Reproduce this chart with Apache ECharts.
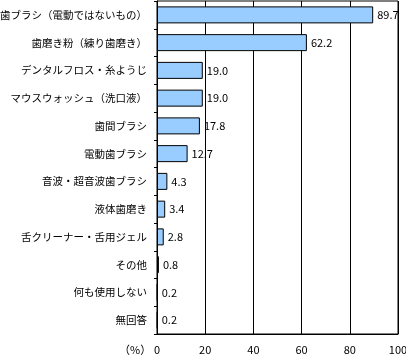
<!DOCTYPE html>
<html>
<head>
<meta charset="utf-8">
<script src="https://cdn.jsdelivr.net/npm/echarts@6/dist/echarts.min.js"></script>
<style>
html,body{margin:0;padding:0;background:#fff;}
#c{width:406px;height:357px;}
</style>
</head>
<body>
<div id="c"></div>
<script>
const categories = [
  "歯ブラシ（電動ではないもの）",
  "歯磨き粉（練り歯磨き）",
  "デンタルフロス・糸ようじ",
  "マウスウォッシュ（洗口液）",
  "歯間ブラシ",
  "電動歯ブラシ",
  "音波・超音波歯ブラシ",
  "液体歯磨き",
  "舌クリーナー・舌用ジェル",
  "その他",
  "何も使用しない",
  "無回答"
];
const values = [89.7, 62.2, 19.0, 19.0, 17.8, 12.7, 4.3, 3.4, 2.8, 0.8, 0.2, 0.2];
const xTicks = [0, 20, 40, 60, 80, 100];
const unitLabel = "（%）";

const FONT = '"Noto Sans CJK JP", sans-serif';
const chart = echarts.init(document.getElementById('c'), null, {renderer: 'canvas'});
chart.setOption({
  animation: false,
  backgroundColor: '#fff',
  grid: {left: 157, right: 8, top: 1, bottom: 23, show: true, borderColor: '#000', borderWidth: 1,
    backgroundColor: 'transparent', containLabel: false, outerBoundsMode: 'none'},
  xAxis: {
    type: 'value', min: xTicks[0], max: xTicks[xTicks.length - 1], interval: 20,
    axisLine: {show: true, lineStyle: {color: '#000', width: 1}},
    axisTick: {show: false},
    splitLine: {show: true, lineStyle: {color: '#000', width: 1}},
    axisLabel: {color: '#000', fontSize: 11, fontFamily: FONT, margin: 10}
  },
  yAxis: {
    type: 'category', data: categories, inverse: true,
    axisLine: {show: true, lineStyle: {color: '#000', width: 1}},
    axisTick: {show: true, length: 3, lineStyle: {color: '#000'}},
    axisLabel: {color: '#000', fontSize: 10.5, fontFamily: FONT, margin: 10}
  },
  graphic: [{
    type: 'text', left: 119, top: 344,
    style: {text: unitLabel, fill: '#000', font: '11px ' + FONT}
  }],
  series: [{
    type: 'bar', data: values, barWidth: 17,
    itemStyle: {color: '#99CCFF', borderColor: '#000', borderWidth: 1},
    label: {show: true, position: 'right', distance: 4, color: '#000', fontSize: 11, fontFamily: FONT,
      formatter: p => p.value.toFixed(1)}
  }]
});
</script>
</body>
</html>
